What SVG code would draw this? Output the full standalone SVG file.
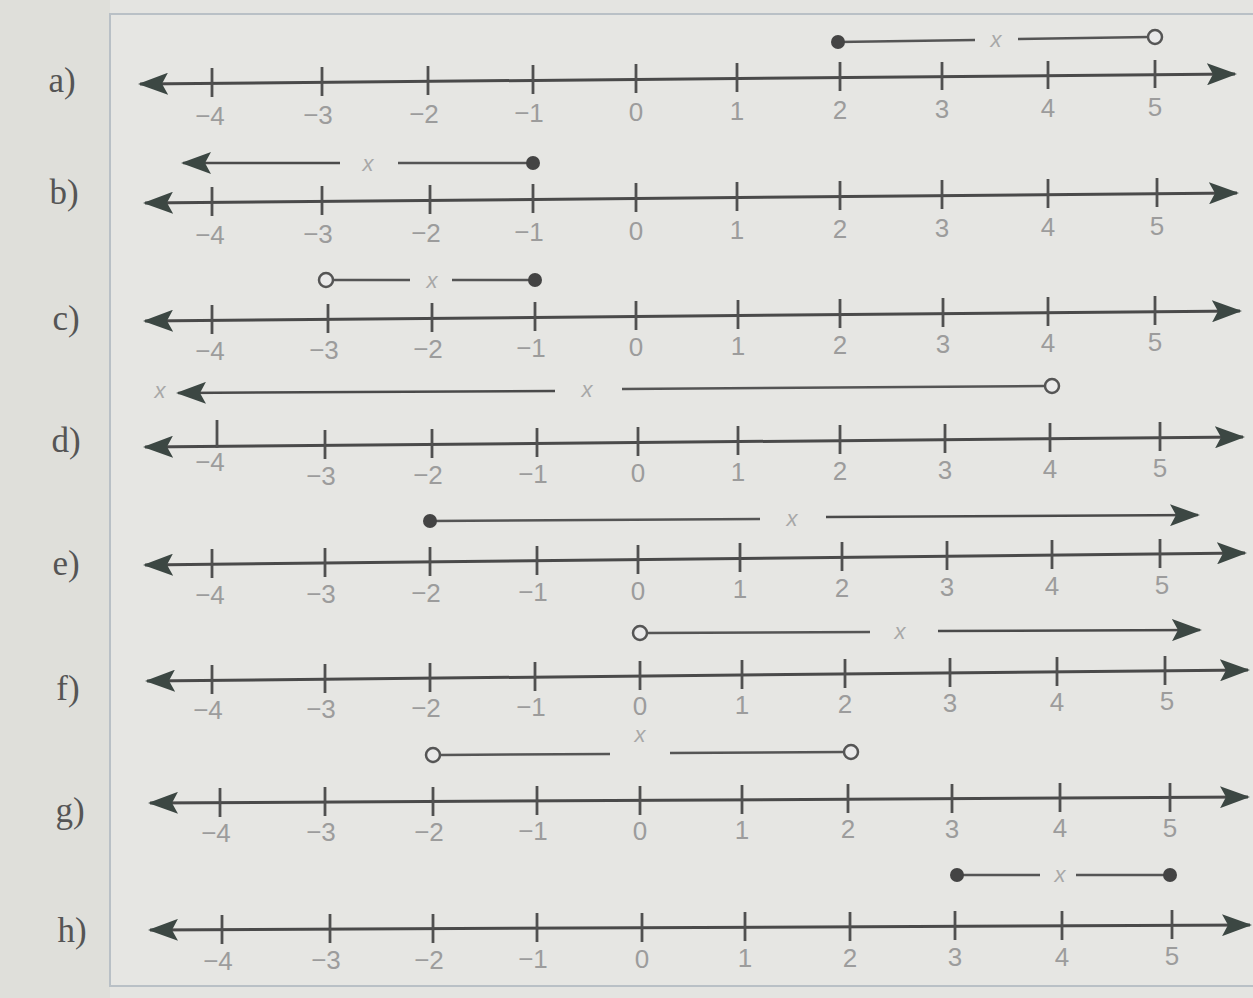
<svg xmlns="http://www.w3.org/2000/svg" width="1253" height="998" viewBox="0 0 1253 998">
<defs>
<style>
.axis{stroke:#4a4a4a;stroke-width:3;fill:none;marker-start:url(#ah);marker-end:url(#ah)}
.tk{stroke:#505050;stroke-width:2.8}
.num{font-family:"Liberation Sans",Arial,sans-serif;font-size:26px;fill:#9c9c9c;text-anchor:middle;transform:translateY(3px)}
.lab{font-family:"Liberation Serif","Times New Roman",serif;font-size:35px;fill:#555;text-anchor:middle}
.iv{stroke:#555;stroke-width:2.5;fill:none}
.iva{stroke:#4a4a4a;stroke-width:2.5;fill:none}
.xv{font-family:"Liberation Sans",Arial,sans-serif;font-style:italic;font-size:22px;fill:#a8a8a8;text-anchor:middle}
.dot{fill:#444}
.open{fill:#eaeaea;stroke:#555;stroke-width:2.5}
</style>
<marker id="ah" viewBox="0 0 30 22" markerWidth="30" markerHeight="22" refX="28" refY="11" orient="auto-start-reverse" markerUnits="userSpaceOnUse">
<path d="M0,0 L30,11 L0,22 L6,11 Z" fill="#3c4743"/>
</marker>
<marker id="ahs" viewBox="0 0 30 22" markerWidth="30" markerHeight="22" refX="28" refY="11" orient="auto-start-reverse" markerUnits="userSpaceOnUse">
<path d="M0,0 L30,11 L0,22 L6,11 Z" fill="#3c4743"/>
</marker>
</defs>
<rect x="0" y="0" width="1253" height="998" fill="#e4e4e1"/>
<rect x="0" y="0" width="110" height="998" fill="#dfdfda"/>
<rect x="110" y="14" width="1150" height="972" fill="#e6e6e3" stroke="#b9c0c6" stroke-width="2"/>

<g id="labels">
<text class="lab" x="62" y="92">a)</text>
<text class="lab" x="64" y="204">b)</text>
<text class="lab" x="66" y="330">c)</text>
<text class="lab" x="66" y="452">d)</text>
<text class="lab" x="66" y="575">e)</text>
<text class="lab" x="68" y="700">f)</text>
<text class="lab" x="70" y="822">g)</text>
<text class="lab" x="72" y="942">h)</text>
</g>

<g id="row-a">
<line class="axis" x1="140" y1="84" x2="1235" y2="74"/>
<g class="tk">
<line x1="212" y1="68" x2="212" y2="97"/><line x1="322" y1="67" x2="322" y2="96"/><line x1="428" y1="66" x2="428" y2="95"/><line x1="533" y1="65" x2="533" y2="94"/><line x1="636" y1="64" x2="636" y2="93"/><line x1="737" y1="63" x2="737" y2="92"/><line x1="840" y1="62" x2="840" y2="91"/><line x1="942" y1="62" x2="942" y2="90"/><line x1="1048" y1="61" x2="1048" y2="89"/><line x1="1155" y1="60" x2="1155" y2="88"/>
</g>
<text class="num" x="210" y="122">−4</text><text class="num" x="318" y="121">−3</text><text class="num" x="424" y="120">−2</text><text class="num" x="529" y="119">−1</text><text class="num" x="636" y="118">0</text><text class="num" x="737" y="117">1</text><text class="num" x="840" y="116">2</text><text class="num" x="942" y="115">3</text><text class="num" x="1048" y="114">4</text><text class="num" x="1155" y="113">5</text>
<line class="iv" x1="838" y1="42" x2="975" y2="40"/><text class="xv" x="996" y="47">x</text><line class="iv" x1="1018" y1="39" x2="1149" y2="37"/>
<circle class="dot" cx="838" cy="42" r="7"/><circle class="open" cx="1155" cy="37" r="7"/>
</g>

<g id="row-b">
<line class="axis" x1="145" y1="203" x2="1237" y2="193"/>
<g class="tk">
<line x1="212" y1="187" x2="212" y2="216"/><line x1="322" y1="186" x2="322" y2="215"/><line x1="430" y1="185" x2="430" y2="214"/><line x1="533" y1="184" x2="533" y2="213"/><line x1="636" y1="183" x2="636" y2="212"/><line x1="737" y1="182" x2="737" y2="211"/><line x1="840" y1="181" x2="840" y2="210"/><line x1="942" y1="180" x2="942" y2="209"/><line x1="1048" y1="179" x2="1048" y2="208"/><line x1="1157" y1="178" x2="1157" y2="207"/>
</g>
<text class="num" x="210" y="241">−4</text><text class="num" x="318" y="240">−3</text><text class="num" x="426" y="239">−2</text><text class="num" x="529" y="238">−1</text><text class="num" x="636" y="237">0</text><text class="num" x="737" y="236">1</text><text class="num" x="840" y="235">2</text><text class="num" x="942" y="234">3</text><text class="num" x="1048" y="233">4</text><text class="num" x="1157" y="232">5</text>
<line class="iva" x1="340" y1="163" x2="183" y2="163" style="marker-end:url(#ahs)"/><text class="xv" x="368" y="171">x</text><line class="iv" x1="398" y1="163" x2="530" y2="163"/>
<circle class="dot" cx="533" cy="163" r="7"/>
</g>

<g id="row-c">
<line class="axis" x1="145" y1="321" x2="1240" y2="311"/>
<g class="tk">
<line x1="212" y1="305" x2="212" y2="334"/><line x1="328" y1="304" x2="328" y2="333"/><line x1="432" y1="303" x2="432" y2="332"/><line x1="535" y1="302" x2="535" y2="331"/><line x1="636" y1="301" x2="636" y2="330"/><line x1="738" y1="300" x2="738" y2="329"/><line x1="840" y1="299" x2="840" y2="328"/><line x1="943" y1="298" x2="943" y2="327"/><line x1="1048" y1="297" x2="1048" y2="326"/><line x1="1155" y1="296" x2="1155" y2="325"/>
</g>
<text class="num" x="210" y="357">−4</text><text class="num" x="324" y="356">−3</text><text class="num" x="428" y="355">−2</text><text class="num" x="531" y="354">−1</text><text class="num" x="636" y="353">0</text><text class="num" x="738" y="352">1</text><text class="num" x="840" y="351">2</text><text class="num" x="943" y="350">3</text><text class="num" x="1048" y="349">4</text><text class="num" x="1155" y="348">5</text>
<line class="iv" x1="333" y1="280" x2="410" y2="280"/><text class="xv" x="432" y="288">x</text><line class="iv" x1="452" y1="280" x2="532" y2="280"/>
<circle class="open" cx="326" cy="280" r="7"/><circle class="dot" cx="535" cy="280" r="7"/>
</g>

<g id="row-d">
<line class="axis" x1="145" y1="447" x2="1243" y2="437"/>
<g class="tk">
<line x1="217" y1="420" x2="217" y2="448"/><line x1="325" y1="430" x2="325" y2="459"/><line x1="432" y1="429" x2="432" y2="458"/><line x1="537" y1="428" x2="537" y2="457"/><line x1="638" y1="427" x2="638" y2="456"/><line x1="738" y1="426" x2="738" y2="455"/><line x1="840" y1="425" x2="840" y2="454"/><line x1="945" y1="424" x2="945" y2="453"/><line x1="1050" y1="423" x2="1050" y2="452"/><line x1="1160" y1="422" x2="1160" y2="451"/>
</g>
<text class="num" x="210" y="468">−4</text><text class="num" x="321" y="482">−3</text><text class="num" x="428" y="481">−2</text><text class="num" x="533" y="480">−1</text><text class="num" x="638" y="479">0</text><text class="num" x="738" y="478">1</text><text class="num" x="840" y="477">2</text><text class="num" x="945" y="476">3</text><text class="num" x="1050" y="475">4</text><text class="num" x="1160" y="474">5</text>
<text class="xv" x="160" y="398">x</text>
<line class="iva" x1="555" y1="391" x2="178" y2="393" style="marker-end:url(#ahs)"/><text class="xv" x="587" y="397">x</text><line class="iv" x1="622" y1="389" x2="1045" y2="386"/>
<circle class="open" cx="1052" cy="386" r="7"/>
</g>

<g id="row-e">
<line class="axis" x1="145" y1="565" x2="1245" y2="553"/>
<g class="tk">
<line x1="212" y1="549" x2="212" y2="578"/><line x1="325" y1="548" x2="325" y2="577"/><line x1="430" y1="547" x2="430" y2="576"/><line x1="537" y1="546" x2="537" y2="575"/><line x1="638" y1="545" x2="638" y2="574"/><line x1="740" y1="543" x2="740" y2="572"/><line x1="842" y1="542" x2="842" y2="571"/><line x1="947" y1="541" x2="947" y2="570"/><line x1="1052" y1="540" x2="1052" y2="569"/><line x1="1160" y1="539" x2="1160" y2="568"/>
</g>
<text class="num" x="210" y="601">−4</text><text class="num" x="321" y="600">−3</text><text class="num" x="426" y="599">−2</text><text class="num" x="533" y="598">−1</text><text class="num" x="638" y="597">0</text><text class="num" x="740" y="595">1</text><text class="num" x="842" y="594">2</text><text class="num" x="947" y="593">3</text><text class="num" x="1052" y="592">4</text><text class="num" x="1162" y="591">5</text>
<line class="iv" x1="430" y1="521" x2="760" y2="519"/><text class="xv" x="792" y="526">x</text><line class="iva" x1="826" y1="517" x2="1198" y2="515" style="marker-end:url(#ahs)"/>
<circle class="dot" cx="430" cy="521" r="7"/>
</g>

<g id="row-f">
<line class="axis" x1="147" y1="681" x2="1248" y2="670"/>
<g class="tk">
<line x1="212" y1="665" x2="212" y2="694"/><line x1="325" y1="664" x2="325" y2="693"/><line x1="430" y1="663" x2="430" y2="692"/><line x1="535" y1="662" x2="535" y2="691"/><line x1="640" y1="661" x2="640" y2="690"/><line x1="742" y1="660" x2="742" y2="689"/><line x1="845" y1="659" x2="845" y2="688"/><line x1="950" y1="658" x2="950" y2="687"/><line x1="1057" y1="657" x2="1057" y2="686"/><line x1="1165" y1="656" x2="1165" y2="685"/>
</g>
<text class="num" x="208" y="716">−4</text><text class="num" x="321" y="715">−3</text><text class="num" x="426" y="714">−2</text><text class="num" x="531" y="713">−1</text><text class="num" x="640" y="712">0</text><text class="num" x="742" y="711">1</text><text class="num" x="845" y="710">2</text><text class="num" x="950" y="709">3</text><text class="num" x="1057" y="708">4</text><text class="num" x="1167" y="707">5</text>
<line class="iv" x1="647" y1="633" x2="870" y2="632"/><text class="xv" x="900" y="639">x</text><line class="iva" x1="938" y1="631" x2="1200" y2="630" style="marker-end:url(#ahs)"/>
<circle class="open" cx="640" cy="633" r="7"/>
</g>

<g id="row-g">
<line class="axis" x1="150" y1="803" x2="1248" y2="797"/>
<g class="tk">
<line x1="220" y1="788" x2="220" y2="817"/><line x1="325" y1="787" x2="325" y2="816"/><line x1="433" y1="787" x2="433" y2="816"/><line x1="537" y1="786" x2="537" y2="815"/><line x1="640" y1="786" x2="640" y2="815"/><line x1="742" y1="785" x2="742" y2="814"/><line x1="848" y1="784" x2="848" y2="813"/><line x1="952" y1="784" x2="952" y2="813"/><line x1="1060" y1="783" x2="1060" y2="812"/><line x1="1170" y1="783" x2="1170" y2="812"/>
</g>
<text class="num" x="216" y="839">−4</text><text class="num" x="321" y="838">−3</text><text class="num" x="429" y="838">−2</text><text class="num" x="533" y="837">−1</text><text class="num" x="640" y="837">0</text><text class="num" x="742" y="836">1</text><text class="num" x="848" y="835">2</text><text class="num" x="952" y="835">3</text><text class="num" x="1060" y="834">4</text><text class="num" x="1170" y="834">5</text>
<line class="iv" x1="440" y1="755" x2="610" y2="754"/><text class="xv" x="640" y="742">x</text><line class="iv" x1="670" y1="753" x2="844" y2="752"/>
<circle class="open" cx="433" cy="755" r="7"/><circle class="open" cx="851" cy="752" r="7"/>
</g>

<g id="row-h">
<line class="axis" x1="150" y1="930" x2="1250" y2="925"/>
<g class="tk">
<line x1="222" y1="915" x2="222" y2="944"/><line x1="330" y1="914" x2="330" y2="943"/><line x1="433" y1="914" x2="433" y2="943"/><line x1="537" y1="913" x2="537" y2="942"/><line x1="642" y1="913" x2="642" y2="942"/><line x1="745" y1="912" x2="745" y2="941"/><line x1="850" y1="912" x2="850" y2="941"/><line x1="955" y1="911" x2="955" y2="940"/><line x1="1062" y1="911" x2="1062" y2="940"/><line x1="1172" y1="910" x2="1172" y2="939"/>
</g>
<text class="num" x="218" y="967">−4</text><text class="num" x="326" y="966">−3</text><text class="num" x="429" y="966">−2</text><text class="num" x="533" y="965">−1</text><text class="num" x="642" y="965">0</text><text class="num" x="745" y="964">1</text><text class="num" x="850" y="964">2</text><text class="num" x="955" y="963">3</text><text class="num" x="1062" y="963">4</text><text class="num" x="1172" y="962">5</text>
<line class="iv" x1="957" y1="875" x2="1040" y2="875"/><text class="xv" x="1060" y="882">x</text><line class="iv" x1="1076" y1="875" x2="1170" y2="875"/>
<circle class="dot" cx="957" cy="875" r="7"/><circle class="dot" cx="1170" cy="875" r="7"/>
</g>
</svg>
